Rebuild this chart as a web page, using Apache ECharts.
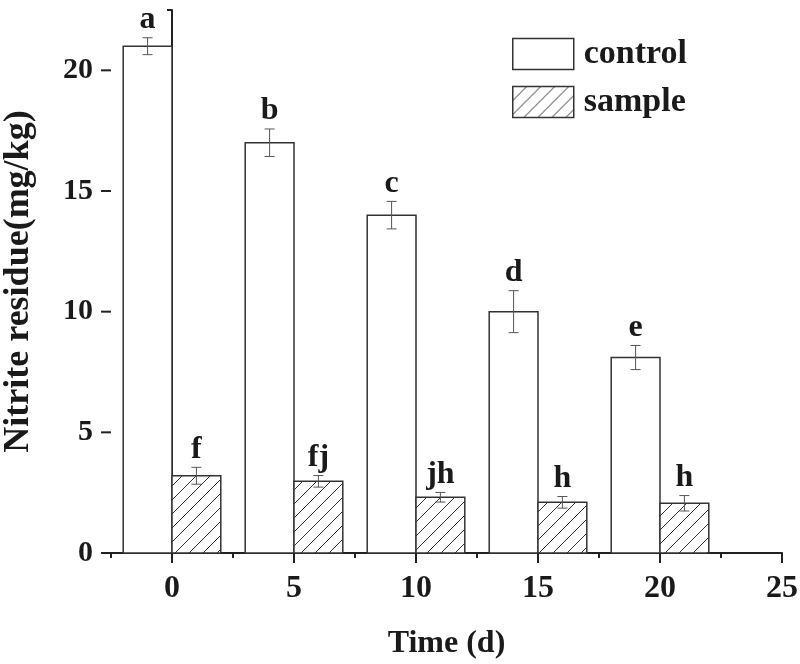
<!DOCTYPE html>
<html><head><meta charset="utf-8">
<script src="https://cdn.jsdelivr.net/npm/echarts@6/dist/echarts.min.js"></script>
<style>html,body{margin:0;padding:0;background:#fff}#c{width:800px;height:664px}</style>
</head><body><div id="c"></div>
<script>
// ---- data ----
const days = [0, 5, 10, 15, 20];
const controlMean = [21.0, 17.0, 14.0, 10.0, 8.1];
const controlErr = [0.35, 0.57, 0.57, 0.87, 0.5];
const controlLetters = ['a', 'b', 'c', 'd', 'e'];
const sampleMean = [3.2, 2.97, 2.31, 2.1, 2.06];
const sampleErr = [0.35, 0.24, 0.2, 0.24, 0.32];
const sampleLetters = ['f', 'fj', 'jh', 'h', 'h'];
const xMajorTicks = [0, 5, 10, 15, 20, 25];
const yMajorTicks = [0, 5, 10, 15, 20];
const X_MIN = -2.5, X_MAX = 25, Y_MIN = 0, Y_MAX = 22.5;

// ---- style ----
const FONT = '"Liberation Serif","Times New Roman",serif';
const INK = '#1a1a1a';
function hatchCanvas() {
  const s = 14;
  const c = document.createElement('canvas');
  c.width = s; c.height = s;
  const g = c.getContext('2d');
  g.fillStyle = '#fff'; g.fillRect(0, 0, s, s);
  g.strokeStyle = '#333'; g.lineWidth = 1;
  g.beginPath();
  g.moveTo(0, s); g.lineTo(s, 0);
  g.moveTo(-2, 2); g.lineTo(2, -2);
  g.moveTo(s - 2, s + 2); g.lineTo(s + 2, s - 2);
  g.stroke();
  return c;
}
const hatch = { image: hatchCanvas(), repeat: 'repeat' };

function barRenderer(lo, hi, fill, letters) {
  return function (params, api) {
    const d = api.value(0), m = api.value(1), e = api.value(2);
    const p0 = api.coord([d + lo, m]);
    const p1 = api.coord([d + hi, Y_MIN]);
    const x = api.coord([d + (lo + hi) / 2, m])[0];
    const top = api.coord([d, m + e])[1];
    const bot = api.coord([d, m - e])[1];
    const es = { stroke: '#555', lineWidth: 1 };
    return {
      type: 'group',
      children: [
        { type: 'rect', shape: { x: p0[0], y: p0[1], width: p1[0] - p0[0], height: p1[1] - p0[1] },
          style: { fill: fill, stroke: '#333', lineWidth: 1.5 } },
        { type: 'line', shape: { x1: x, y1: top, x2: x, y2: bot }, style: es },
        { type: 'line', shape: { x1: x - 5, y1: top, x2: x + 5, y2: top }, style: es },
        { type: 'line', shape: { x1: x - 5, y1: bot, x2: x + 5, y2: bot }, style: es },
        { type: 'text', style: { text: letters[params.dataIndex], x: x, y: top - 2,
          align: 'center', verticalAlign: 'bottom', font: 'bold 32px ' + FONT, fill: INK } }
      ]
    };
  };
}

function tickRenderer(dx, dy) {
  return function (params, api) {
    const p = api.coord([api.value(0), api.value(1)]);
    return { type: 'line', shape: { x1: p[0], y1: p[1], x2: p[0] + dx, y2: p[1] + dy },
      style: { stroke: '#222', lineWidth: 2 } };
  };
}

const chart = echarts.init(document.getElementById('c'), null, { renderer: 'canvas' });
chart.setOption({
  backgroundColor: '#fff',
  animation: false,
  grid: { left: 111, top: 10, width: 671, height: 543, containLabel: false, outerBoundsMode: 'none' },
  legend: {
    orient: 'vertical', left: 507, top: 32,
    itemWidth: 61, itemHeight: 31, itemGap: 14, icon: 'rect',
    selectedMode: false,
    textStyle: { fontFamily: FONT, fontWeight: 'bold', fontSize: 34, color: INK, lineHeight: 31, padding: [0, 0, 0, 5] },
    data: [
      { name: 'control', itemStyle: { color: '#fff', borderColor: '#333', borderWidth: 1.5 } },
      { name: 'sample', itemStyle: { color: hatch, borderColor: '#333', borderWidth: 1.5 } }
    ]
  },
  xAxis: {
    type: 'value', min: X_MIN, max: X_MAX, interval: 2.5,
    name: 'Time (d)', nameLocation: 'middle', nameGap: 75,
    nameTextStyle: { fontFamily: FONT, fontWeight: 'bold', fontSize: 32, color: INK },
    axisLine: { show: true, lineStyle: { color: '#222', width: 2 } },
    axisTick: { show: true, length: 5, lineStyle: { color: '#222', width: 2 } },
    axisLabel: { margin: 20, fontFamily: FONT, fontWeight: 'bold', fontSize: 32, color: INK,
      formatter: v => (Math.abs(v % 5) < 1e-9 ? String(v) : '') },
    splitLine: { show: false }
  },
  yAxis: {
    type: 'value', min: Y_MIN, max: Y_MAX, interval: 2.5,
    name: 'Nitrite residue(mg/kg)', nameLocation: 'middle', nameGap: 74, nameRotate: 90,
    nameTextStyle: { fontFamily: FONT, fontWeight: 'bold', fontSize: 36, color: INK },
    axisLine: { show: true, lineStyle: { color: '#222', width: 2 } },
    axisTick: { show: true, length: 5, lineStyle: { color: '#222', width: 2 } },
    axisLabel: { margin: 18, fontFamily: FONT, fontWeight: 'bold', fontSize: 30, color: INK,
      formatter: v => (Math.abs(v % 5) < 1e-9 ? String(v) : '') },
    splitLine: { show: false }
  },
  series: [
    { name: 'control', type: 'custom', clip: false,
      itemStyle: { color: '#fff', borderColor: '#333', borderWidth: 1.5 },
      renderItem: barRenderer(-2, 0, '#fff', controlLetters),
      encode: { x: 0, y: 1 },
      data: days.map((d, i) => [d, controlMean[i], controlErr[i]]) },
    { name: 'sample', type: 'custom', clip: false,
      itemStyle: { color: hatch, borderColor: '#333', borderWidth: 1.5 },
      renderItem: barRenderer(0, 2, hatch, sampleLetters),
      encode: { x: 0, y: 1 },
      data: days.map((d, i) => [d, sampleMean[i], sampleErr[i]]) },
    { name: 'xticks', type: 'custom', clip: false, silent: true,
      renderItem: tickRenderer(0, 10), encode: { x: 0, y: 1 },
      data: xMajorTicks.map(v => [v, Y_MIN]) },
    { name: 'yticks', type: 'custom', clip: false, silent: true,
      renderItem: tickRenderer(-10, 0), encode: { x: 0, y: 1 },
      data: yMajorTicks.map(v => [X_MIN, v]) }
  ]
});
</script></body></html>
